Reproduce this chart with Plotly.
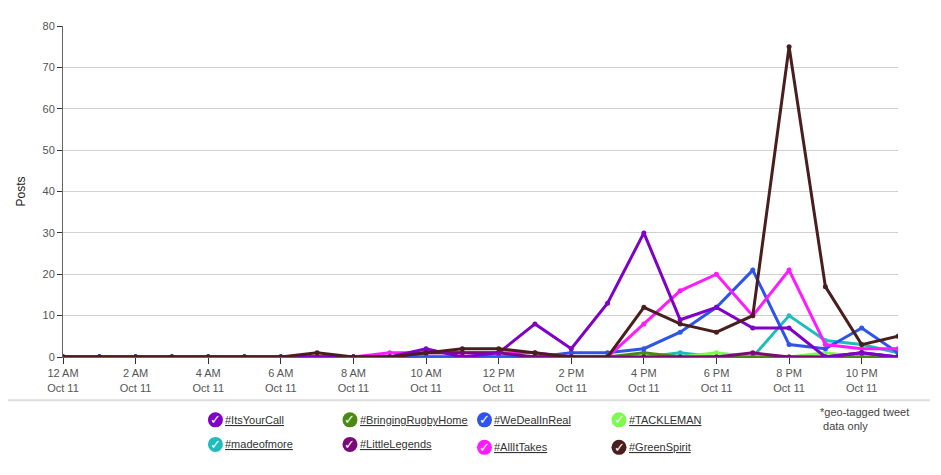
import plotly.graph_objects as go

# hours of Oct 11 (0 = 12 AM)
hours = [0, 1, 2, 3, 4, 5, 6, 7, 8, 9, 10, 11, 12, 13, 14, 15, 16, 17, 18, 19, 20, 21, 22, 23]
tick_hours = [0, 2, 4, 6, 8, 10, 12, 14, 16, 18, 20, 22]
tick_labels = ["12 AM", "2 AM", "4 AM", "6 AM", "8 AM", "10 AM",
               "12 PM", "2 PM", "4 PM", "6 PM", "8 PM", "10 PM"]

its_your_call = [0, 0, 0, 0, 0, 0, 0, 0, 0, 0, 2, 0, 1, 8, 2, 13, 30, 9, 12, 7, 7, 0, 1, 0]
bringing_rugby_home = [0, 0, 0, 0, 0, 0, 0, 0, 0, 0, 0, 0, 0, 0, 0, 0, 1, 0, 0, 0, 0, 0, 0, 0]
we_deal_in_real = [0, 0, 0, 0, 0, 0, 0, 0, 0, 0, 0, 0, 0, 0, 1, 1, 2, 6, 12, 21, 3, 2, 7, 1]
tackleman = [0, 0, 0, 0, 0, 0, 0, 0, 0, 0, 0, 0, 0, 0, 0, 0, 0, 0, 1, 0, 0, 1, 0, 0]
made_of_more = [0, 0, 0, 0, 0, 0, 0, 0, 0, 0, 0, 0, 0, 0, 0, 0, 0, 1, 0, 0, 10, 4, 3, 1]
little_legends = [0, 0, 0, 0, 0, 0, 0, 0, 0, 0, 1, 1, 1, 0, 0, 0, 0, 0, 0, 1, 0, 0, 1, 0]
all_it_takes = [0, 0, 0, 0, 0, 0, 0, 0, 0, 1, 1, 1, 1, 1, 0, 0, 8, 16, 20, 10, 21, 3, 2, 2]
green_spirit = [0, 0, 0, 0, 0, 0, 0, 1, 0, 0, 1, 2, 2, 1, 0, 0, 12, 8, 6, 10, 75, 17, 3, 5]

# name, values, colour, legend column, legend row
series = [
    ("#madeofmore", made_of_more, "#1fbcbc", 0, 1),
    ("#TACKLEMAN", tackleman, "#7dfa4f", 3, 0),
    ("#BringingRugbyHome", bringing_rugby_home, "#4b8a12", 1, 0),
    ("#WeDealInReal", we_deal_in_real, "#2d55ea", 2, 0),
    ("#AllItTakes", all_it_takes, "#ff1aff", 2, 1),
    ("#LittleLegends", little_legends, "#7a0a7a", 1, 1),
    ("#ItsYourCall", its_your_call, "#7f00c6", 0, 0),
    ("#GreenSpirit", green_spirit, "#4a1e1e", 3, 1),
]

fig = go.Figure()
for name, vals, color, col, row in series:
    fig.add_trace(go.Scatter(
        x=hours, y=vals, name=name, mode="lines+markers",
        line=dict(color=color, width=3),
        marker=dict(color=color, size=5),
        showlegend=False,
    ))

# the page body adds 8px, so work in screen pixels and subtract it
OFF = 8
W, H = 941, 475
L, R, T, B = 60 - OFF, W - (898 - OFF), 20 - OFF, H - (357 - OFF)
pw, ph = W - L - R, H - T - B


def px(x):
    return (x - OFF - L) / pw


def py(y):
    return (H - B - (y - OFF)) / ph


shapes = [dict(type="line", xref="paper", yref="paper",
               x0=px(0), x1=px(930), y0=py(401), y1=py(401),
               line=dict(color="#dddddd", width=2))]
annotations = []
col_x = [213, 348, 483, 618]
row_y = [[421, 446], [421, 446], [421, 449], [421, 449]]
for name, vals, color, col, row in series:
    cx, cy = col_x[col], row_y[col][row]
    shapes.append(dict(type="circle", xref="paper", yref="paper",
                       xsizemode="pixel", ysizemode="pixel",
                       xanchor=px(cx), yanchor=py(cy),
                       x0=-7.5, x1=7.5, y0=-7.5, y1=7.5,
                       fillcolor=color, line=dict(width=0)))
    annotations.append(dict(xref="paper", yref="paper", x=px(cx), y=py(cy),
                            xanchor="center", yanchor="middle",
                            text="<b>✓</b>", showarrow=False,
                            font=dict(color="white", size=13, family="DejaVu Sans")))
    annotations.append(dict(xref="paper", yref="paper", x=px(cx + 8), y=py(cy),
                            xanchor="left", yanchor="middle",
                            text=f"<u>{name}</u>", showarrow=False,
                            font=dict(color="#333333", size=11)))

annotations.append(dict(xref="paper", yref="paper", x=px(818), y=py(405),
                        xanchor="left", yanchor="top", align="left",
                        text="*geo-tagged tweet<br> data only", showarrow=False,
                        font=dict(color="#444444", size=11)))

fig.update_layout(
    width=W, height=H,
    margin=dict(l=L, r=R, t=T, b=B),
    plot_bgcolor="white", paper_bgcolor="white",
    font=dict(family="Liberation Sans, Arial", size=11, color="#555555"),
    shapes=shapes,
    annotations=annotations,
)
fig.update_xaxes(
    range=[0, 23], tickvals=tick_hours,
    ticktext=[f"{t}<br>Oct 11" for t in tick_labels],
    showgrid=False, showline=True, linecolor="#666666", linewidth=1,
    ticks="outside", ticklen=6, tickcolor="#333333", zeroline=False,
)
fig.update_yaxes(
    range=[0, 80], dtick=10,
    title=dict(text="Posts", font=dict(color="#222222", size=12), standoff=14),
    showgrid=True, gridcolor="#d0d0d0", showline=True, linecolor="#666666", linewidth=1,
    ticks="outside", ticklen=5, tickcolor="#333333", zeroline=False,
)

fig.write_html("out.html")
